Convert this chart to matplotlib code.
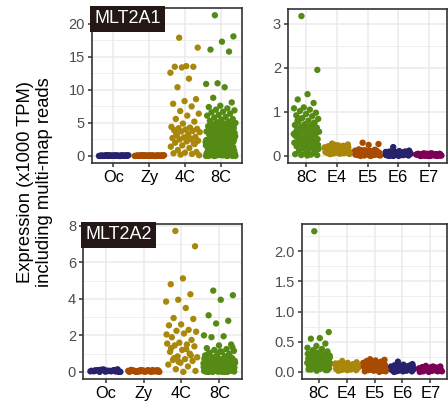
import matplotlib
matplotlib.use("Agg")
import matplotlib.pyplot as plt
import numpy as np

plt.rcParams['font.family'] = ['Liberation Sans', 'DejaVu Sans']

# colours per stage
COL = {
    'Oc': '#27226B', 'Zy': '#A84A00', '4C': '#A8870A', '8C': '#558A14',
    'E4': '#A8870A', 'E5': '#A84A00', 'E6': '#27226B', 'E7': '#7B0055',
}

# ---- MLT2A1, early stages ----
a1_early_cats = ['Oc', 'Zy', '4C', '8C']
a1_oc = [0.0, 0.02, 0.05, 0.01, 0.08, 0.03, 0.0, 0.06, 0.1, 0.04, 0.02, 0.07, 0.0, 0.05,
         0.03, 0.09, 0.01, 0.04, 0.06, 0.0, 0.02, 0.08, 0.05, 0.03, 0.0, 0.07, 0.04, 0.1,
         0.01, 0.06, 0.02, 0.05, 0.03, 0.0, 0.08, 0.04]
a1_zy = [0.0, 0.03, 0.05, 0.01, 0.07, 0.02, 0.0, 0.06, 0.09, 0.04, 0.02, 0.07, 0.0, 0.05,
         0.03, 0.08, 0.01, 0.04, 0.06, 0.0, 0.02, 0.08, 0.05, 0.03, 0.0, 0.07, 0.04, 0.1,
         0.01, 0.06, 0.02, 0.05, 0.03, 0.0, 0.08, 0.04, 0.02, 0.06]
a1_4c = [17.9, 16.4, 13.6, 13.5, 13.5, 13.4, 12.6, 11.7, 10.4, 8.6, 8.3, 7.9, 7.5, 6.8,
         6.4, 6.1, 5.6, 5.2, 4.9, 4.4, 4.3, 4.2, 4.1, 4.0, 3.9, 3.8, 3.7, 3.6, 3.3, 3.1,
         2.9, 2.8, 2.7, 2.6, 2.5, 2.3, 2.2, 2.0, 1.9, 1.6, 1.4, 1.2, 0.9, 0.6, 0.5, 0.4,
         0.3, 0.2, 0.1, 2.4, 3.4, 1.8]
a1_8c = [21.3, 18.1, 17.3, 16.1, 15.8, 11.0, 10.9, 10.4, 8.8, 8.1, 7.6, 7.4, 7.2, 7.0,
         6.9, 6.7, 6.6, 6.4, 6.2, 6.1, 5.9, 5.8, 5.6, 5.5, 5.3, 5.2, 5.1, 5.0,
         4.9, 4.8, 4.7, 4.6, 4.5, 4.4, 4.3, 4.2, 4.1, 4.0, 3.9, 3.8, 3.7, 3.6, 3.5, 3.4,
         3.3, 3.2, 3.1, 3.0, 2.9, 2.8, 2.7, 2.6, 2.5, 2.4, 2.3, 2.2, 2.1, 2.0, 1.9, 1.8,
         1.7, 1.6, 1.5, 1.4, 1.3, 1.2, 1.1, 1.0, 0.9, 0.8, 0.7, 0.6, 0.5, 0.4, 0.3, 0.2,
         0.1, 0.0, 4.6, 4.2, 3.8, 3.4, 3.0, 2.6, 2.2, 1.8, 1.4, 1.0, 0.6, 0.2, 4.4, 4.0,
         3.6, 3.2, 2.8, 2.4, 2.0, 1.6, 1.2, 0.8, 0.4, 0.0, 3.9, 3.5, 3.1, 2.7, 2.3, 1.9,
         1.5, 1.1, 0.7, 0.3, 0.1, 3.3, 2.9, 2.5, 2.1, 1.7, 1.3, 0.9, 0.5, 0.1, 0.0, 2.8,
         2.4, 2.0, 1.6, 1.2, 0.8, 0.4, 0.2, 0.0, 2.3, 1.9, 1.5, 1.1, 0.7, 0.3, 0.1, 1.8,
         1.4, 1.0, 0.6, 0.2, 0.0, 1.3, 0.9, 0.5, 0.3, 0.1, 0.0, 1.2, 0.8, 0.4, 0.2, 0.0,
         4.3, 3.7, 3.1, 2.5, 1.9, 1.3, 0.7, 0.1, 4.1, 3.5, 2.9, 2.3, 1.7, 1.1, 0.5, 0.0]

# ---- MLT2A1, blastocyst stages ----
a1_late_cats = ['8C', 'E4', 'E5', 'E6', 'E7']
a1_l8c = [3.17, 1.95, 1.40, 1.28, 1.20, 1.10, 1.08, 1.05, 1.02, 0.98, 0.95, 0.92, 0.90,
          0.86, 0.84, 0.80, 0.78, 0.75, 0.72, 0.70, 0.68, 0.66, 0.64, 0.62, 0.60, 0.58,
          0.56, 0.55, 0.52, 0.50, 0.48, 0.46, 0.45, 0.42, 0.40, 0.38, 0.36, 0.35, 0.33,
          0.32, 0.30, 0.28, 0.27, 0.25, 0.24, 0.22, 0.20, 0.18, 0.16, 0.14, 0.12, 0.10,
          0.06, 0.04, 0.03, 0.02, 0.02, 0.01, 0.80, 0.70, 0.60, 0.50, 0.40, 0.30, 0.20,
          0.65, 0.55, 0.45, 0.35, 0.25, 0.15, 0.85, 0.75, 0.62, 0.48]
a1_e4 = [0.28, 0.26, 0.24, 0.22, 0.21, 0.20, 0.19, 0.18, 0.17, 0.16, 0.15, 0.15, 0.14,
         0.13, 0.12, 0.12, 0.11, 0.10, 0.10, 0.09, 0.09, 0.08, 0.08, 0.07, 0.07, 0.06,
         0.06, 0.05, 0.05, 0.04, 0.22, 0.18, 0.14, 0.10, 0.06, 0.20, 0.16, 0.12, 0.08,
         0.25, 0.19, 0.13, 0.09, 0.17, 0.11, 0.07, 0.23, 0.15, 0.05, 0.21]
a1_e5 = [0.30, 0.27, 0.25, 0.15, 0.14, 0.13, 0.12, 0.11, 0.10, 0.10, 0.09, 0.09, 0.08,
         0.08, 0.07, 0.07, 0.06, 0.06, 0.05, 0.05, 0.04, 0.04, 0.03, 0.03, 0.02, 0.02,
         0.01, 0.01, 0.0, 0.0, 0.12, 0.10, 0.08, 0.06, 0.04, 0.02, 0.11, 0.09, 0.07,
         0.05, 0.03, 0.01, 0.13, 0.06, 0.04, 0.02, 0.08, 0.05]
a1_e6 = [0.20, 0.12, 0.11, 0.10, 0.10, 0.09, 0.09, 0.08, 0.08, 0.07, 0.07, 0.06, 0.06,
         0.05, 0.05, 0.04, 0.04, 0.03, 0.03, 0.02, 0.02, 0.01, 0.01, 0.0, 0.0, 0.09,
         0.07, 0.05, 0.03, 0.01, 0.08, 0.06, 0.04, 0.02, 0.0, 0.10, 0.05, 0.03, 0.07,
         0.04, 0.02, 0.06]
a1_e7 = [0.06, 0.05, 0.05, 0.04, 0.04, 0.04, 0.03, 0.03, 0.03, 0.02, 0.02, 0.02, 0.01,
         0.01, 0.01, 0.0, 0.0, 0.0, 0.05, 0.04, 0.03, 0.02, 0.01, 0.0, 0.04, 0.03, 0.02,
         0.01, 0.06, 0.03, 0.02, 0.0, 0.05, 0.03, 0.01, 0.04, 0.02, 0.0, 0.03, 0.01]

# ---- MLT2A2, early stages ----
a2_early_cats = ['Oc', 'Zy', '4C', '8C']
a2_oc = [0.0, 0.02, 0.05, 0.08, 0.10, 0.12, 0.03, 0.06, 0.09, 0.14, 0.01, 0.04, 0.07,
         0.11, 0.0, 0.05, 0.08, 0.02, 0.13, 0.06, 0.03, 0.10, 0.0, 0.07, 0.04, 0.09]
a2_zy = [0.0, 0.02, 0.05, 0.08, 0.10, 0.03, 0.06, 0.09, 0.01, 0.04, 0.07, 0.11, 0.0,
         0.05, 0.08, 0.02, 0.06, 0.03, 0.10, 0.0, 0.07, 0.04, 0.09, 0.01, 0.05, 0.02,
         0.08, 0.0, 0.06, 0.03]
a2_4c = [7.72, 6.88, 5.12, 4.80, 4.25, 3.95, 3.85, 3.50, 2.95, 2.90, 2.60, 2.55, 2.30,
         2.25, 2.20, 2.10, 1.90, 1.75, 1.60, 1.55, 1.50, 1.45, 1.40, 1.20, 1.10, 1.00,
         0.85, 0.80, 0.70, 0.65, 0.60, 0.50, 0.40, 0.30, 0.15, 0.05, 0.0, 1.30, 0.90,
         0.55, 2.05, 1.25, 0.75]
a2_8c = [4.45, 4.20, 3.95, 3.10, 2.80, 2.65, 2.00, 1.95, 1.90, 1.50, 1.45, 1.30, 1.25,
         1.20, 1.15, 1.10, 1.05, 1.00, 0.95, 0.90, 0.85, 0.80, 0.75, 0.70, 0.65, 0.60,
         0.55, 0.50, 0.45, 0.40, 0.35, 0.30, 0.25, 0.20, 0.15, 0.10, 0.05, 0.0, 0.85,
         0.78, 0.72, 0.66, 0.60, 0.54, 0.48, 0.42, 0.36, 0.30, 0.24, 0.18, 0.12, 0.06,
         0.02, 0.80, 0.70, 0.62, 0.56, 0.50, 0.44, 0.38, 0.32, 0.26, 0.20, 0.14, 0.08,
         0.04, 0.0, 0.75, 0.67, 0.58, 0.52, 0.46, 0.40, 0.34, 0.28, 0.22, 0.16, 0.10,
         0.06, 0.03, 0.0, 0.70, 0.60, 0.50, 0.40, 0.30, 0.20, 0.10, 0.0, 0.65, 0.55,
         0.45, 0.35, 0.25, 0.15, 0.05, 0.0, 0.58, 0.48, 0.38, 0.28, 0.18, 0.08, 0.02,
         0.52, 0.42, 0.32, 0.22, 0.12, 0.04, 0.0, 1.35, 1.12, 0.98, 0.88, 0.68, 0.46,
         0.33, 0.21, 0.11, 0.03, 0.62, 0.41, 0.27, 0.13, 0.01]

# ---- MLT2A2, blastocyst stages ----
a2_late_cats = ['8C', 'E4', 'E5', 'E6', 'E7']
a2_l8c = [2.33, 0.66, 0.56, 0.55, 0.47, 0.43, 0.40, 0.38, 0.36, 0.34, 0.32, 0.30, 0.29,
          0.28, 0.27, 0.26, 0.25, 0.24, 0.23, 0.22, 0.21, 0.20, 0.19, 0.18, 0.17, 0.16,
          0.15, 0.14, 0.13, 0.12, 0.11, 0.10, 0.09, 0.08, 0.07, 0.06, 0.05, 0.04, 0.03,
          0.02, 0.30, 0.26, 0.22, 0.18, 0.14, 0.10, 0.06, 0.28, 0.24, 0.20, 0.16, 0.12,
          0.08, 0.04, 0.25, 0.21, 0.17, 0.13, 0.09, 0.05, 0.22, 0.15, 0.11, 0.07, 0.03,
          0.19, 0.13, 0.08, 0.33, 0.27, 0.16, 0.10]
a2_e4 = [0.18, 0.16, 0.15, 0.14, 0.13, 0.12, 0.12, 0.11, 0.10, 0.10, 0.09, 0.09, 0.08,
         0.08, 0.07, 0.07, 0.06, 0.06, 0.05, 0.05, 0.04, 0.04, 0.03, 0.03, 0.02, 0.11,
         0.09, 0.07, 0.05, 0.03, 0.13, 0.10, 0.08, 0.06, 0.04, 0.12, 0.07, 0.05, 0.09,
         0.06, 0.14, 0.08]
a2_e5 = [0.21, 0.20, 0.19, 0.18, 0.17, 0.16, 0.15, 0.14, 0.13, 0.13, 0.12, 0.12, 0.11,
         0.11, 0.10, 0.10, 0.09, 0.09, 0.08, 0.08, 0.07, 0.07, 0.06, 0.06, 0.05, 0.05,
         0.04, 0.04, 0.03, 0.03, 0.02, 0.02, 0.01, 0.0, 0.15, 0.12, 0.09, 0.06, 0.03,
         0.14, 0.11, 0.08, 0.05, 0.02, 0.13, 0.10, 0.07, 0.04, 0.01]
a2_e6 = [0.17, 0.13, 0.12, 0.11, 0.10, 0.10, 0.09, 0.09, 0.08, 0.08, 0.07, 0.07, 0.06,
         0.06, 0.05, 0.05, 0.04, 0.04, 0.03, 0.03, 0.02, 0.02, 0.01, 0.01, 0.0, 0.09,
         0.07, 0.05, 0.03, 0.01, 0.11, 0.08, 0.06, 0.04, 0.02, 0.10, 0.05, 0.03, 0.07,
         0.04]
a2_e7 = [0.10, 0.09, 0.08, 0.08, 0.07, 0.07, 0.06, 0.06, 0.05, 0.05, 0.04, 0.04, 0.03,
         0.03, 0.02, 0.02, 0.01, 0.01, 0.0, 0.0, 0.08, 0.06, 0.04, 0.02, 0.07, 0.05,
         0.03, 0.01, 0.09, 0.06, 0.04, 0.02, 0.05, 0.03, 0.06, 0.04, 0.02, 0.07]

W, H = 448, 412
JITTER = 0.42


def jitter(n):
    # deterministic spread across the jitter band (golden-ratio sequence)
    k = np.arange(n)
    return ((k * 0.6180339887 + 0.31) % 1.0 - 0.5) * 2 * JITTER


def panel(fig, box, cats, groups, ylim, yticks, yfmt, label=None):
    x0, y0, x1, y1 = box
    ax = fig.add_axes([x0 / W, 1 - y1 / H, (x1 - x0) / W, (y1 - y0) / H])
    for i, (cat, vals) in enumerate(zip(cats, groups)):
        vals = np.asarray(vals, dtype=float)
        ax.scatter(i + 1 + jitter(len(vals)), vals, s=21, color=COL[cat],
                   edgecolors='none', zorder=3)
    ax.set_xlim(0.4, len(cats) + 0.6)
    ax.set_ylim(*ylim)
    ax.set_xticks(range(1, len(cats) + 1))
    ax.set_xticklabels(cats)
    ax.set_yticks(yticks)
    ax.set_yticklabels([yfmt.format(t) for t in yticks])
    minor = [(a + b) / 2 for a, b in zip(yticks[:-1], yticks[1:])]
    if yticks[-1] + (yticks[1] - yticks[0]) / 2 < ylim[1]:
        minor.append(yticks[-1] + (yticks[1] - yticks[0]) / 2)
    ax.set_yticks(minor, minor=True)
    ax.grid(True, which='major', color='#EBEBEB', linewidth=1.1, zorder=0)
    ax.grid(True, which='minor', axis='y', color='#EBEBEB', linewidth=0.55, zorder=0)
    ax.set_axisbelow(True)
    for s in ax.spines.values():
        s.set_color('#333333')
        s.set_linewidth(1.2)
    ax.tick_params(axis='both', which='major', length=3, width=1.1, color='#333333')
    ax.tick_params(axis='y', which='minor', length=0)
    ax.tick_params(axis='y', labelsize=10.5, labelcolor='#4D4D4D', pad=2)
    ax.tick_params(axis='x', labelsize=11.8, labelcolor='black', pad=2)
    if label:
        ax.text(0.014, 0.985, label, transform=ax.transAxes, ha='left', va='top',
                fontsize=13, color='white', zorder=5,
                bbox=dict(boxstyle='square,pad=0.25', fc='#231815', ec='none'))
    return ax


fig = plt.figure(figsize=(W / 100, H / 100), dpi=100)

panel(fig, (92, 8, 242, 163), a1_early_cats, [a1_oc, a1_zy, a1_4c, a1_8c],
      (-1.07, 22.4), [0, 5, 10, 15, 20], '{:g}', 'MLT2A1')
panel(fig, (288, 9, 447, 163), a1_late_cats, [a1_l8c, a1_e4, a1_e5, a1_e6, a1_e7],
      (-0.16, 3.33), [0, 1, 2, 3], '{:g}')
panel(fig, (83, 224, 242, 379), a2_early_cats, [a2_oc, a2_zy, a2_4c, a2_8c],
      (-0.39, 8.1), [0, 2, 4, 6, 8], '{:g}', 'MLT2A2')
panel(fig, (302, 224, 447, 379), a2_late_cats, [a2_l8c, a2_e4, a2_e5, a2_e6, a2_e7],
      (-0.117, 2.45), [0.0, 0.5, 1.0, 1.5, 2.0], '{:.1f}')

fig.text(35 / W, 1 - 182 / H, 'Expression (x1000 TPM)\nincluding multi-map reads',
         rotation=90, ha='center', va='center', fontsize=13.2, color='black',
         linespacing=1.12)

fig.savefig('out.png', dpi=100)
